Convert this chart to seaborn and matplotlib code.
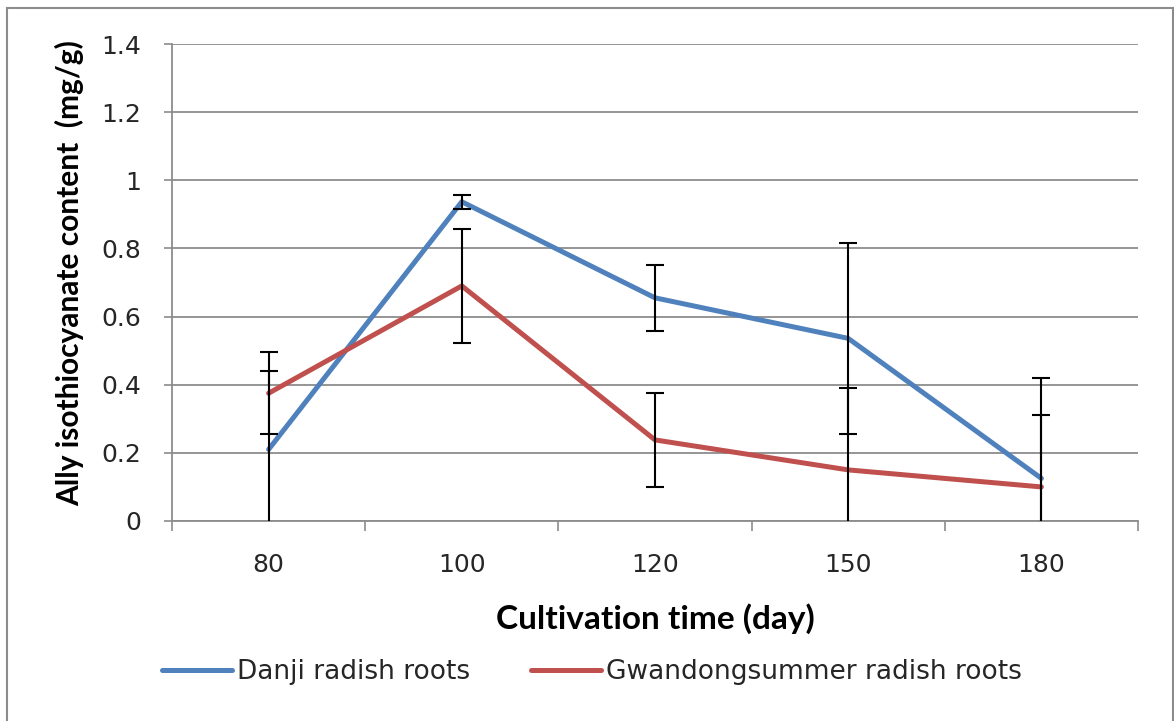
import matplotlib
matplotlib.use("Agg")
import matplotlib.pyplot as plt
import seaborn as sns
import pandas as pd
import numpy as np
from matplotlib.patches import Rectangle

days = ["80", "100", "120", "150", "180"]
danji = [0.21, 0.937, 0.655, 0.536, 0.125]
danji_err = [0.23, 0.02, 0.097, 0.28, 0.295]
gwandong = [0.375, 0.69, 0.238, 0.15, 0.10]
gwandong_err = [0.12, 0.167, 0.138, 0.24, 0.21]
series_names = ["Danji radish roots", "Gwandongsummer radish roots"]
colors = ["#4F81BD", "#C0504D"]
yticks = [0, 0.2, 0.4, 0.6, 0.8, 1.0, 1.2, 1.4]
ytick_labels = ["0", "0.2", "0.4", "0.6", "0.8", "1", "1.2", "1.4"]

df = pd.DataFrame({
    "day": days * 2,
    "value": danji + gwandong,
    "err": danji_err + gwandong_err,
    "series": [series_names[0]] * 5 + [series_names[1]] * 5,
})

sns.set_theme(style="white")
plt.rcParams["font.family"] = ["DejaVu Sans"]

fig = plt.figure(figsize=(11.74, 7.21), dpi=100)
ax = fig.add_axes([172/1174, 1 - 521/721, (1138-172)/1174, 477/721])

sns.lineplot(data=df, x="day", y="value", hue="series", palette=colors,
             linewidth=3.6, ax=ax, sort=False, zorder=3)

for name in series_names:
    sub = df[df["series"] == name]
    ax.errorbar(sub["day"], sub["value"], yerr=sub["err"], fmt="none",
                ecolor="black", elinewidth=1.5, capsize=6.5, capthick=1.5,
                zorder=4)

ax.set_xlim(-0.5, 4.5)
ax.set_ylim(0, 1.4)
ax.set_yticks(yticks)
ax.set_yticklabels(ytick_labels)
ax.set_xticks(range(len(days)))
ax.set_xticklabels(days)
ax.set_xticks(np.arange(-0.5, 5.0, 1.0), minor=True)

ax.yaxis.grid(True, color="#8c8c8c", linewidth=1.3)
ax.xaxis.grid(False)
ax.set_axisbelow(True)
for s in ["top", "right"]:
    ax.spines[s].set_visible(False)
for s in ["left", "bottom"]:
    ax.spines[s].set_color("#8c8c8c")
    ax.spines[s].set_linewidth(1.3)

ax.tick_params(axis="y", which="major", direction="out", length=6, width=1.2,
               color="#8c8c8c", left=True, pad=16, labelsize=18, labelcolor="#262626")
ax.tick_params(axis="x", which="major", length=0, pad=23, labelsize=18, labelcolor="#262626")
ax.tick_params(axis="x", which="minor", direction="out", length=7, width=1.2,
               color="#8c8c8c", bottom=True)

ax.set_xlabel("Cultivation time (day)", fontfamily="Lato", fontweight="bold",
              fontsize=24, color="black")
ax.xaxis.set_label_coords(0.5, -(603-521)/477, transform=ax.transAxes)
ax.set_ylabel("Ally isothiocyanate content  (mg/g)", fontfamily="Lato",
              fontweight="bold", fontsize=21.5, color="black")
ax.yaxis.set_label_coords(-(172-84)/966, 0.52)

leg = ax.legend(loc="center", bbox_to_anchor=(592/1174, 1 - 672/721),
                bbox_transform=fig.transFigure, ncol=2, frameon=False,
                fontsize=19, handlelength=2.65, handletextpad=0.2,
                columnspacing=2.3)
for t in leg.get_texts():
    t.set_color("#262626")

fig.patches.append(Rectangle((7/1174, -0.02), (1173-7)/1174, (721-8)/721 + 0.02,
                             transform=fig.transFigure, fill=False,
                             edgecolor="#8c8c8c", linewidth=1.5))

fig.savefig("out.png", dpi=100)
